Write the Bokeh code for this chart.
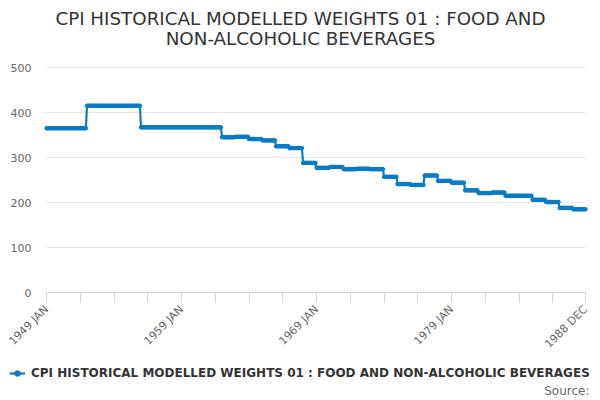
import math
from bokeh.plotting import figure
from bokeh.models import (ColumnDataSource, FixedTicker, Label, Legend, LegendItem,
                          Range1d)
from bokeh.embed import file_html
from bokeh.resources import INLINE

# ---- data -------------------------------------------------------------
years = list(range(1949, 1989))
month_names = ["JAN", "FEB", "MAR", "APR", "MAY", "JUN",
               "JUL", "AUG", "SEP", "OCT", "NOV", "DEC"]
annual_weights = [365, 365, 365,
                  415, 415, 415, 415,
                  367, 367, 367, 367, 367, 367,
                  345, 346, 341, 338, 325, 321,
                  288, 277, 279, 274, 275, 274,
                  257, 241, 239, 260, 248, 244,
                  227, 221, 222, 215, 215, 206,
                  201, 188, 185]
title_lines = ["CPI HISTORICAL MODELLED WEIGHTS 01 : FOOD AND",
               "NON-ALCOHOLIC BEVERAGES"]
series_name = "CPI HISTORICAL MODELLED WEIGHTS 01 : FOOD AND NON-ALCOHOLIC BEVERAGES"
source_text = "Source:"
y_ticks = [0, 100, 200, 300, 400, 500]

categories = [f"{y} {m}" for y in years for m in month_names]
values = [w for w in annual_weights for _ in month_names]
idx = list(range(len(categories)))
n = len(idx)

src = ColumnDataSource(dict(x=idx, y=values, cat=categories))

# ---- layout geometry (pixels) ----------------------------------------
W, H = 600, 400
plot_left, plot_right = 46, 585      # where first / last month sit
plot_top, plot_bottom = 67, 292      # where 500 / 0 sit
y_max = 500

xs = (plot_right - plot_left) / (n - 1)
x_start = -plot_left / xs
x_end = (n - 1) + (W - plot_right) / xs
ys = (plot_bottom - plot_top) / y_max
y_end = y_max + plot_top / ys
y_start = -(H - plot_bottom) / ys

p = figure(width=W, height=H, output_backend="svg", toolbar_location=None,
           title=None,
           x_range=Range1d(x_start, x_end), y_range=Range1d(y_start, y_end),
           min_border=0, min_border_left=0, min_border_right=0,
           min_border_top=0, min_border_bottom=0)
p.outline_line_color = None
p.background_fill_color = "white"
p.border_fill_color = "white"

blue = "#0a7bc4"
r_line = p.line("x", "y", source=src, line_color=blue, line_width=2.2)
r_pts = p.scatter("x", "y", source=src, size=3.5, fill_color=blue, line_color=blue)

# x axis drawn at y = 0
xt = list(range(0, n, 30))
if xt[-1] != n - 1:
    xt.append(n - 1)
p.xaxis.fixed_location = 0
p.xaxis.bounds = (0, n - 1)
p.xaxis.ticker = FixedTicker(ticks=xt)
p.xaxis.major_label_overrides = {
    t: (categories[t] if (t % 120 == 0 or t == n - 1) else "") for t in xt}
p.xaxis.major_label_orientation = math.pi / 4
p.xaxis.axis_line_color = "#ccd6eb"
p.xaxis.major_tick_line_color = "#ccd6eb"
p.xaxis.major_tick_out = 10
p.xaxis.major_tick_in = 0
p.xaxis.minor_tick_line_color = None
p.xaxis.major_label_text_color = "#666666"
p.xaxis.major_label_text_font = "DejaVu Sans"
p.xaxis.major_label_text_font_size = "11px"
p.xaxis.major_label_standoff = 5
p.xgrid.grid_line_color = None

# y axis drawn at the first month
p.yaxis.fixed_location = 0
p.yaxis.bounds = (0, y_max)
p.yaxis.ticker = FixedTicker(ticks=y_ticks)
p.yaxis.axis_line_color = None
p.yaxis.major_tick_line_color = None
p.yaxis.major_tick_out = 0
p.yaxis.major_tick_in = 0
p.yaxis.minor_tick_line_color = None
p.yaxis.major_label_text_color = "#666666"
p.yaxis.major_label_text_font = "DejaVu Sans"
p.yaxis.major_label_text_font_size = "11px"
p.yaxis.major_label_standoff = 15
p.ygrid.grid_line_color = "#e6e6e6"
try:
    p.ygrid.cross_bounds = (0, n - 1)
except Exception:
    pass

# title
for i, line in enumerate(title_lines):
    p.add_layout(Label(x=300, y=H - 18 - 20 * i, x_units="screen", y_units="screen",
                       text=line, text_align="center", text_baseline="middle",
                       text_font="DejaVu Sans", text_font_size="18.3px",
                       text_color="#333333"))

# legend
legend = Legend(items=[LegendItem(label=series_name, renderers=[r_line, r_pts])],
                location=(9, 20), orientation="horizontal",
                label_text_font="DejaVu Sans", label_text_font_style="bold",
                label_text_font_size="12px", label_text_color="#333333",
                glyph_width=16, glyph_height=14, label_height=14,
                label_standoff=6, padding=0, margin=0, spacing=0,
                border_line_color=None, background_fill_alpha=0)
p.add_layout(legend, "center")

# source
p.add_layout(Label(x=589, y=10, x_units="screen", y_units="screen",
                   text=source_text, text_align="right", text_baseline="middle",
                   text_font="DejaVu Sans", text_font_size="12px",
                   text_color="#666666"))

open("out.html", "w").write(file_html(p, INLINE))
